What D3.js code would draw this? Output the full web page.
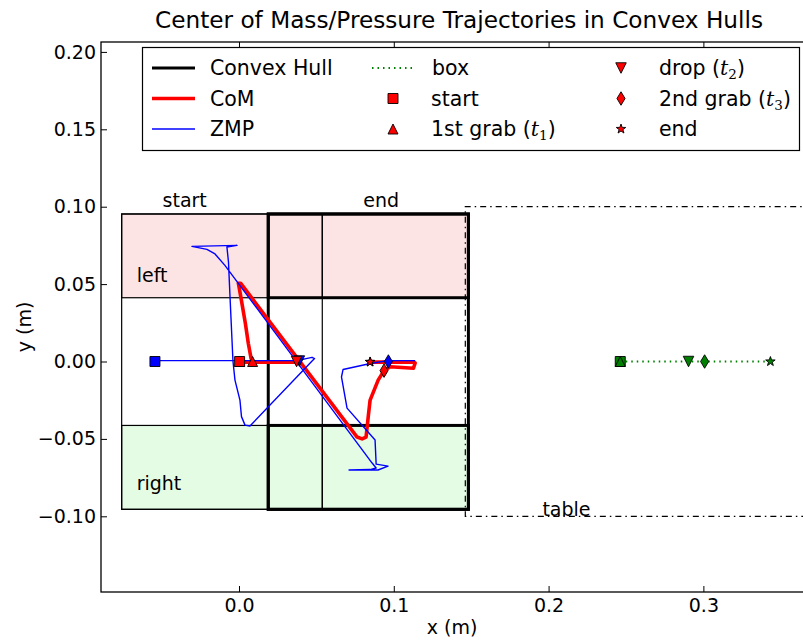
<!DOCTYPE html>
<html>
<head>
<meta charset="utf-8">
<script src="https://cdn.jsdelivr.net/npm/d3@7"></script>
<style>
  body { margin: 0; background: #fff; }
  svg { display: block; font-family: "DejaVu Sans", sans-serif; }
</style>
</head>
<body>
<svg id="chart" width="803" height="642"></svg>
<script>
// ---- axis ticks ----
const xTicks = [0.0, 0.1, 0.2, 0.3];
const yTicks = [-0.10, -0.05, 0.00, 0.05, 0.10, 0.15, 0.20];

// ---- centre of mass trajectory (m) ----
const comX = [0.0004, 0.0088, 0.0372, 0.0088, 0.0078, 0.0060, 0.0041, 0.0017, 0.0000, -0.0004, 0.0010,
              0.0763, 0.0795, 0.0821, 0.0836, 0.0847, 0.0899, 0.0937, 0.0976, 0.1127, 0.1138, 0.1130, 0.0847];
const comY = [-0.0004, -0.0004, -0.0004, -0.0004, 0.0020, 0.0118, 0.0247, 0.0387, 0.0484, 0.0506, 0.0506,
              -0.0488, -0.0500, -0.0488, -0.0346, -0.0249, -0.0120, -0.0059, -0.0034, -0.0044, -0.0010, -0.0004, -0.0004];

// ---- zero moment point trajectory (m) ----
const zmpX = [-0.0543, 0.0381, 0.0433, 0.0472, 0.0488, 0.0469, 0.0071, 0.0039, 0.0016, 0.0006, -0.0026,
              -0.0039, -0.0058, -0.0068, -0.0078, -0.0013, -0.0304, -0.0207, -0.0155, -0.0091, 0.0860,
              0.0886, 0.0847, 0.0711, 0.0898, 0.0963, 0.0886, 0.0879, 0.0698, 0.0662, 0.0672, 0.0834,
              0.0957, 0.1138];
const zmpY = [0.0006, 0.0006, 0.0019, 0.0027, 0.0019, 0.0000, -0.0417, -0.0411, -0.0356, -0.0249, -0.0120,
              0.0003, 0.0417, 0.0643, 0.0740, 0.0750, 0.0744, 0.0724, 0.0695, 0.0621, -0.0656,
              -0.0688, -0.0698, -0.0701, -0.0701, -0.0676, -0.0663, -0.0507, -0.0301, -0.0100, -0.0052, -0.0016,
              0.0006, 0.0006];

// ---- box trajectory (m) ----
const boxX = [0.2463, 0.2463, 0.2904, 0.3008, 0.3433];
const boxY = [0.0, 0.0, 0.0, 0.0, 0.0];

// ---- events: start, 1st grab, drop, 2nd grab, end ----
const eventSymbols = ["square", "triUp", "triDown", "diamond", "star"];
const comEventX = [0.0004, 0.0088, 0.0372, 0.0937, 0.0847];
const comEventY = [0.0, 0.0, 0.0, -0.0059, -0.0003];
const zmpEventX = [-0.0543, 0.0004, 0.0390, 0.0965, 0.0847];
const zmpEventY = [0.0, 0.0, 0.0003, 0.0, -0.0003];
const boxEventX = [0.2463, 0.2463, 0.2904, 0.3008, 0.3433];
const boxEventY = [0.0, 0.0, 0.0, 0.0, 0.0];

// ---- feet support rectangles (m) ----
const footSide  = ["left", "right", "left", "right"];
const footPhase = ["start", "start", "end", "end"];
const footX0 = [-0.0758, -0.0758, 0.0189, 0.0189];
const footX1 = [0.0538, 0.0538, 0.1482, 0.1482];
const footY0 = [0.0412, -0.0955, 0.0412, -0.0955];
const footY1 = [0.0953, -0.0413, 0.0953, -0.0413];

// ---- support convex hulls (m) ----
const hullPhase = ["start", "end"];
const hullX0 = [-0.0758, 0.0189];
const hullX1 = [0.0538, 0.1482];
const hullY0 = [-0.0955, -0.0955];
const hullY1 = [0.0953, 0.0953];

// ---- table edge (m) ----
const tableEdgeX = 0.1462;
const tableEdgeY = [-0.10, 0.10];
const tableFarX = 0.40;

// ---- region labels ----
const regionText = ["start", "end", "left", "right", "table"];
const regionX = [-0.0351, 0.0919, -0.0661, -0.0661, 0.1960];
const regionY = [0.0996, 0.0996, 0.0514, -0.0827, -0.1000];
const regionAnchor = ["middle", "middle", "start", "start", "start"];

// ---- colours ----
const colLeft = "rgb(253,228,228)";
const colRight = "rgb(228,252,228)";
const colCoM = "#ff0000";
const colZMP = "#0000ff";
const colBox = "#008000";

// ---- layout ----
const W = 803, H = 642;
const plot = { left: 101, top: 42, right: 804, bottom: 592 };

const x = d3.scaleLinear().domain([-0.08915, 0.3650]).range([plot.left, plot.right]);
const y = d3.scaleLinear().domain([-0.1489, 0.2064]).range([plot.bottom, plot.top]);

const svg = d3.select("#chart");
svg.append("rect").attr("width", W).attr("height", H).attr("fill", "#fff");

svg.append("clipPath").attr("id", "plotclip")
  .append("rect").attr("x", plot.left).attr("y", plot.top)
  .attr("width", plot.right - plot.left).attr("height", plot.bottom - plot.top);

const g = svg.append("g").attr("clip-path", "url(#plotclip)");

// marker shapes centred on the origin
function markerPath(type, s) {
  const h = s / 2;
  switch (type) {
    case "square": return `M${-h},${-h}H${h}V${h}H${-h}Z`;
    case "triUp": return `M0,${-h}L${h},${h}L${-h},${h}Z`;
    case "triDown": return `M0,${h}L${h},${-h}L${-h},${-h}Z`;
    case "diamond": return `M0,${-h}L${0.6 * h},0L0,${h}L${-0.6 * h},0Z`;
    case "star": {
      let p = "";
      for (let i = 0; i < 10; i++) {
        const r = i % 2 === 0 ? h : h * 0.4;
        const a = -Math.PI / 2 + i * Math.PI / 5;
        p += (i === 0 ? "M" : "L") + (r * Math.cos(a)).toFixed(2) + "," + (r * Math.sin(a)).toFixed(2);
      }
      return p + "Z";
    }
  }
}
const markerSize = { square: 10, triUp: 10, triDown: 10.5, diamond: 13.5, star: 10 };

// feet
const feet = footSide.map((s, i) => ({ side: s, phase: footPhase[i], x0: footX0[i], x1: footX1[i], y0: footY0[i], y1: footY1[i] }));
g.selectAll("rect.foot").data(feet).join("rect").attr("class", "foot")
  .attr("x", d => x(d.x0)).attr("y", d => y(d.y1))
  .attr("width", d => x(d.x1) - x(d.x0)).attr("height", d => y(d.y0) - y(d.y1))
  .attr("fill", d => d.side === "left" ? colLeft : colRight)
  .attr("stroke", "none");

// convex hulls and feet outlines
const hulls = hullPhase.map((p, i) => ({ phase: p, x0: hullX0[i], x1: hullX1[i], y0: hullY0[i], y1: hullY1[i] }));
const outlines = feet.concat(hulls).sort((a, b) => (a.phase === "end") - (b.phase === "end"));
g.selectAll("rect.outline").data(outlines).join("rect").attr("class", "outline")
  .attr("x", d => x(d.x0)).attr("y", d => y(d.y1))
  .attr("width", d => x(d.x1) - x(d.x0)).attr("height", d => y(d.y0) - y(d.y1))
  .attr("fill", "none").attr("stroke", "#000")
  .attr("stroke-width", d => d.phase === "end" ? 3 : 1.2);

// table edge (dash-dot)
const tablePath = d3.line()([
  [x(tableFarX), y(tableEdgeY[1])], [x(tableEdgeX), y(tableEdgeY[1])],
  [x(tableEdgeX), y(tableEdgeY[0])], [x(tableFarX), y(tableEdgeY[0])]
]);
g.append("path").attr("d", tablePath).attr("fill", "none").attr("stroke", "#000")
  .attr("stroke-width", 1.2).attr("stroke-dasharray", "6,4,1.5,4");

// region labels
svg.selectAll("text.region").data(regionText).join("text").attr("class", "region")
  .attr("x", (d, i) => x(regionX[i])).attr("y", (d, i) => y(regionY[i]))
  .attr("text-anchor", (d, i) => regionAnchor[i])
  .attr("font-size", 19).attr("fill", "#000").text(d => d);

// trajectories
const line = d3.line().x(d => x(d[0])).y(d => y(d[1]));
g.append("path").datum(boxX.map((v, i) => [v, boxY[i]])).attr("d", line)
  .attr("fill", "none").attr("stroke", colBox).attr("stroke-width", 2).attr("stroke-dasharray", "1.5,4");
g.append("path").datum(comX.map((v, i) => [v, comY[i]])).attr("d", line)
  .attr("fill", "none").attr("stroke", colCoM).attr("stroke-width", 3.6)
  .attr("stroke-linejoin", "round").attr("stroke-linecap", "round");
g.append("path").datum(zmpX.map((v, i) => [v, zmpY[i]])).attr("d", line)
  .attr("fill", "none").attr("stroke", colZMP).attr("stroke-width", 1.4)
  .attr("stroke-linejoin", "round");

// event markers
function drawEvents(ex, ey, colour) {
  g.append("g").selectAll("path").data(eventSymbols).join("path")
    .attr("d", s => markerPath(s, markerSize[s]))
    .attr("transform", (s, i) => `translate(${x(ex[i])},${y(ey[i])})`)
    .attr("fill", colour).attr("stroke", "#000").attr("stroke-width", 0.9)
    .attr("stroke-linejoin", "miter");
}
drawEvents(boxEventX, boxEventY, colBox);
drawEvents(zmpEventX, zmpEventY, colZMP);
drawEvents(comEventX, comEventY, colCoM);

// axes
const fmt = d3.format(".2f");
const xAxis = svg.append("g").attr("transform", `translate(0,${plot.bottom})`)
  .call(d3.axisBottom(x).tickValues(xTicks).tickFormat(d3.format(".1f")).tickSize(-6).tickPadding(7));
const xAxisTop = svg.append("g").attr("transform", `translate(0,${plot.top})`)
  .call(d3.axisTop(x).tickValues(xTicks).tickFormat("").tickSize(-6));
const yAxis = svg.append("g").attr("transform", `translate(${plot.left},0)`)
  .call(d3.axisLeft(y).tickValues(yTicks).tickFormat(fmt).tickSize(-6).tickPadding(5));
[xAxis, xAxisTop, yAxis].forEach(a => {
  a.select(".domain").remove();
  a.selectAll(".tick line").attr("stroke", "#000").attr("stroke-width", 1);
  a.selectAll(".tick text").attr("font-family", "DejaVu Sans").attr("font-size", 19).attr("fill", "#000");
});

// frame
svg.append("rect").attr("x", plot.left).attr("y", plot.top)
  .attr("width", plot.right - plot.left).attr("height", plot.bottom - plot.top)
  .attr("fill", "none").attr("stroke", "#000").attr("stroke-width", 1.3);

// titles
svg.append("text").attr("x", 459).attr("y", 28).attr("text-anchor", "middle")
  .attr("font-size", 23.2).text("Center of Mass/Pressure Trajectories in Convex Hulls");
svg.append("text").attr("x", 452).attr("y", 634).attr("text-anchor", "middle")
  .attr("font-size", 19).text("x (m)");
svg.append("text").attr("transform", "translate(31,327) rotate(-90)").attr("text-anchor", "middle")
  .attr("font-size", 19).text("y (m)");

// legend
const lg = svg.append("g");
lg.append("rect").attr("x", 142.5).attr("y", 47.5).attr("width", 657).attr("height", 103)
  .attr("fill", "#fff").attr("stroke", "#000").attr("stroke-width", 1.2);
const rowY = [68, 98.5, 129];
const legendFont = 20.5;
const legendLines = [
  { label: "Convex Hull", colour: "#000", width: 3, dash: null },
  { label: "CoM", colour: colCoM, width: 3.6, dash: null },
  { label: "ZMP", colour: colZMP, width: 1.4, dash: null }
];
legendLines.forEach((d, i) => {
  lg.append("line").attr("x1", 152).attr("x2", 195).attr("y1", rowY[i]).attr("y2", rowY[i])
    .attr("stroke", d.colour).attr("stroke-width", d.width);
  lg.append("text").attr("x", 210).attr("y", rowY[i]).attr("dy", "0.36em")
    .attr("font-size", legendFont).text(d.label);
});
lg.append("line").attr("x1", 372).attr("x2", 413).attr("y1", rowY[0]).attr("y2", rowY[0])
  .attr("stroke", colBox).attr("stroke-width", 2).attr("stroke-dasharray", "1.5,4");
lg.append("text").attr("x", 432).attr("y", rowY[0]).attr("dy", "0.36em").attr("font-size", legendFont).text("box");

const legendEvents = [
  { sym: "square", cx: 393, row: 1, label: "start", t: null },
  { sym: "triUp", cx: 393, row: 2, label: "1st grab (", t: "1" },
  { sym: "triDown", cx: 621, row: 0, label: "drop (", t: "2" },
  { sym: "diamond", cx: 621, row: 1, label: "2nd grab (", t: "3" },
  { sym: "star", cx: 621, row: 2, label: "end", t: null }
];
legendEvents.forEach(d => {
  lg.append("path").attr("d", markerPath(d.sym, markerSize[d.sym]))
    .attr("transform", `translate(${d.cx},${rowY[d.row]})`)
    .attr("fill", colCoM).attr("stroke", "#000").attr("stroke-width", 0.9);
  const tx = lg.append("text").attr("x", d.cx + 38).attr("y", rowY[d.row]).attr("dy", "0.36em")
    .attr("font-size", legendFont);
  tx.append("tspan").text(d.label);
  if (d.t) {
    tx.append("tspan").attr("font-family", "DejaVu Serif").attr("font-style", "italic").text("t");
    tx.append("tspan").attr("font-family", "DejaVu Serif").attr("font-size", 13.5).attr("dy", "0.3em").text(d.t);
    tx.append("tspan").attr("dy", "-0.2em").text(")");
  }
});
</script>
</body>
</html>
